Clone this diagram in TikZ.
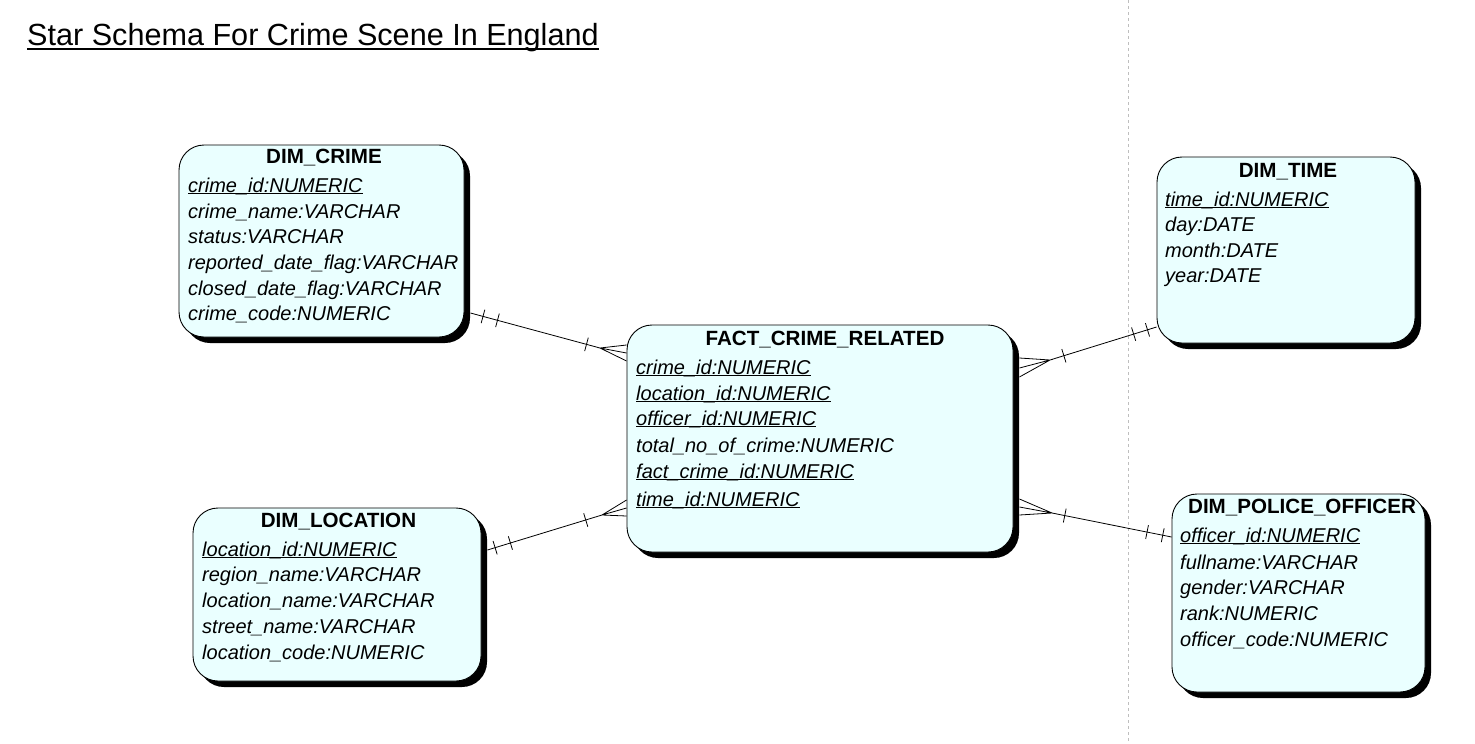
\documentclass[tikz,border=0pt]{standalone}
\usepackage{fontspec}
\setmainfont{Liberation Sans}
\usetikzlibrary{shadows,calc}
\definecolor{boxfill}{RGB}{234,255,255}
\definecolor{sepgray}{RGB}{190,190,190}
\newcommand\ulx[1]{\setbox0\hbox{#1}\rlap{\rule[-2.2pt]{\wd0}{1pt}}\box0}
\newcommand\ulttl[1]{\setbox0\hbox{#1}\rlap{\rule[-5pt]{\wd0}{2pt}}\box0}
\newcommand\tickat[3]{%
  \coordinate (tk) at ($(#1)!#3!(#2)$);
  \draw[rel] ($(tk)!7pt!90:(#2)$) -- ($(tk)!7pt!-90:(#2)$);}
\tikzset{
  tbl/.style={draw=black, line width=0.9pt, fill=boxfill, rounded corners=25pt,
    drop shadow={shadow xshift=6pt, shadow yshift=-6pt, fill=black, opacity=1},
    inner sep=0pt, rectangle},
  hdr/.style={anchor=base, inner sep=0pt, font=\fontsize{20.6}{24}\selectfont\bfseries},
  fld/.style={anchor=base west, inner sep=0pt, font=\fontsize{20}{24}\selectfont\itshape},
  ttl/.style={anchor=base west, inner sep=0pt, font=\fontsize{30.6}{36}\selectfont},
  rel/.style={line width=0.8pt, black},
  sep/.style={line width=0.8pt, sepgray, dash pattern=on 3pt off 3pt},
}
\begin{document}
\begin{tikzpicture}[x=1pt,y=-1pt]
\useasboundingbox (0,0) rectangle (1475,744);
% separator
\coordinate (septop) at (1128,0);
\coordinate (sepbot) at (1128,744);
\draw[sep] (septop) -- (sepbot);
% title
\node[ttl] (title) at (27,45) {\ulttl{Star Schema For Crime Scene In England}};
% tables
\node[tbl, minimum width=285pt, minimum height=192pt] (crime) at (321.5,241) {};
\node[tbl, minimum width=258pt, minimum height=186pt] (time) at (1286,250) {};
\node[tbl, minimum width=386pt, minimum height=227pt] (fact) at (820,438.5) {};
\node[tbl, minimum width=288pt, minimum height=173pt] (loc) at (337,594.5) {};
\node[tbl, minimum width=253pt, minimum height=198pt] (off) at (1298.5,593) {};
% DIM_CRIME
\node[hdr] (crimeh) at (324,163) {DIM\_CRIME};
\node[fld] (crime1) at (188,192) {\ulx{crime\_id:NUMERIC}};
\node[fld] (crime2) at (188,218) {crime\_name:VARCHAR};
\node[fld] (crime3) at (188,243) {status:VARCHAR};
\node[fld] (crime4) at (188,269) {reported\_date\_flag:VARCHAR};
\node[fld] (crime5) at (188,295) {closed\_date\_flag:VARCHAR};
\node[fld] (crime6) at (188,320) {crime\_code:NUMERIC};
% DIM_TIME
\node[hdr] (timeh) at (1288,177) {DIM\_TIME};
\node[fld] (time1) at (1165,206) {\ulx{time\_id:NUMERIC}};
\node[fld] (time2) at (1165,231) {day:DATE};
\node[fld] (time3) at (1165,257) {month:DATE};
\node[fld] (time4) at (1165,282) {year:DATE};
% FACT
\node[hdr] (facth) at (825,345) {FACT\_CRIME\_RELATED};
\node[fld] (fact1) at (636,374) {\ulx{crime\_id:NUMERIC}};
\node[fld] (fact2) at (636,400) {\ulx{location\_id:NUMERIC}};
\node[fld] (fact3) at (636,425) {\ulx{officer\_id:NUMERIC}};
\node[fld] (fact4) at (636,452) {total\_no\_of\_crime:NUMERIC};
\node[fld] (fact5) at (636,478) {\ulx{fact\_crime\_id:NUMERIC}};
\node[fld] (fact6) at (636,506) {\ulx{time\_id:NUMERIC}};
% DIM_LOCATION
\node[hdr] (loch) at (338.5,527) {DIM\_LOCATION};
\node[fld] (loc1) at (202,556) {\ulx{location\_id:NUMERIC}};
\node[fld] (loc2) at (202,581) {region\_name:VARCHAR};
\node[fld] (loc3) at (202,607) {location\_name:VARCHAR};
\node[fld] (loc4) at (202,633) {street\_name:VARCHAR};
\node[fld] (loc5) at (202,659) {location\_code:NUMERIC};
% DIM_POLICE_OFFICER
\node[hdr] (offh) at (1302,513) {DIM\_POLICE\_OFFICER};
\node[fld] (off1) at (1180,542) {\ulx{officer\_id:NUMERIC}};
\node[fld] (off2) at (1180,569) {fullname:VARCHAR};
\node[fld] (off3) at (1180,594) {gender:VARCHAR};
\node[fld] (off4) at (1180,620) {rank:NUMERIC};
\node[fld] (off5) at (1180,646) {officer\_code:NUMERIC};
% connector: crime -- fact
\coordinate (cA) at ($(crime.east |- 0,313)+(6,0)$);
\coordinate (cP) at (600,348);
\coordinate (cT1) at (fact.west |- 0,345);
\coordinate (cT2) at (fact.west |- 0,353);
\coordinate (cT3) at (fact.west |- 0,361);
\draw[rel] (cA) -- (cP) (cT1) -- (cP) -- (cT2) (cP) -- (cT3);
\tickat{cA}{cP}{13pt}
\tickat{cA}{cP}{28pt}
\tickat{cP}{cA}{14pt}
% connector: location -- fact
\coordinate (lA) at ($(loc.east |- 0,550)+(6,0)$);
\coordinate (lP) at (602,515);
\coordinate (lT1) at (fact.west |- 0,500);
\coordinate (lT2) at (fact.west |- 0,508);
\coordinate (lT3) at (fact.west |- 0,516);
\draw[rel] (lA) -- (lP) (lT1) -- (lP) -- (lT2) (lP) -- (lT3);
\tickat{lA}{lP}{8pt}
\tickat{lA}{lP}{24pt}
\tickat{lP}{lA}{17pt}
% connector: fact -- time
\coordinate (tB) at (time.west |- 0,327);
\coordinate (tP) at (1050,360);
\coordinate (tT1) at ($(fact.east |- 0,358)+(6,0)$);
\coordinate (tT2) at ($(fact.east |- 0,368)+(6,0)$);
\coordinate (tT3) at ($(fact.east |- 0,377)+(6,0)$);
\draw[rel] (tB) -- (tP) (tT1) -- (tP) -- (tT2) (tP) -- (tT3);
\tickat{tB}{tP}{9.5pt}
\tickat{tB}{tP}{24pt}
\tickat{tP}{tB}{14.5pt}
% connector: fact -- officer
\coordinate (oB) at (off.west |- 0,537);
\coordinate (oP) at (1052,513);
\coordinate (oT1) at ($(fact.east |- 0,499)+(6,0)$);
\coordinate (oT2) at ($(fact.east |- 0,507)+(6,0)$);
\coordinate (oT3) at ($(fact.east |- 0,515)+(6,0)$);
\draw[rel] (oB) -- (oP) (oT1) -- (oP) -- (oT2) (oP) -- (oT3);
\tickat{oB}{oP}{9pt}
\tickat{oB}{oP}{25pt}
\tickat{oP}{oB}{13pt}
\end{tikzpicture}
\end{document}
